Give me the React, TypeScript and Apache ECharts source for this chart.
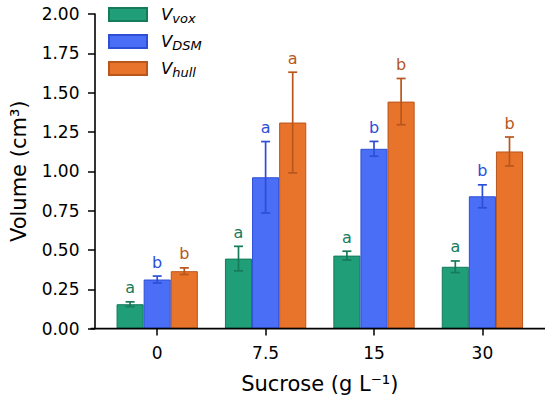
import React, { useEffect, useRef } from "react";
import * as echarts from "echarts";

const categories = ["0", "7.5", "15", "30"];
const seriesNames = ["vox", "DSM", "hull"];
const voxMean = [0.155, 0.445, 0.464, 0.393];
const voxErr = [0.015, 0.078, 0.028, 0.037];
const dsmMean = [0.312, 0.962, 1.143, 0.841];
const dsmErr = [0.022, 0.227, 0.047, 0.073];
const hullMean = [0.365, 1.31, 1.443, 1.126];
const hullErr = [0.021, 0.32, 0.147, 0.092];
const voxLetters = ["a", "a", "a", "a"];
const dsmLetters = ["b", "a", "b", "b"];
const hullLetters = ["b", "a", "b", "b"];
const yTicks = [0, 0.25, 0.5, 0.75, 1.0, 1.25, 1.5, 1.75, 2.0];

const fills = ["#1f9e77", "#4a6ef5", "#e8732b"];
const edges = ["#177a5b", "#2c4fd6", "#b8561c"];

export default function App() {
  const ref = useRef<HTMLDivElement>(null);
  useEffect(() => {
    document.body.style.margin = "0";
    if (!ref.current) return;
    const chart = echarts.init(ref.current, null, { renderer: "svg" });
    const means = [voxMean, dsmMean, hullMean];
    const errs = [voxErr, dsmErr, hullErr];
    const letters = [voxLetters, dsmLetters, hullLetters];
    const font = "DejaVu Sans";

    const barSeries = seriesNames.map((n, i) => ({
      name: n,
      type: "bar",
      data: means[i],
      barWidth: "25%",
      barGap: "0%",
      itemStyle: { color: fills[i], borderColor: edges[i], borderWidth: 1 },
      z: 2,
    }));

    const errSeries = seriesNames.map((n, i) => ({
      type: "custom",
      name: n + "_err",
      coordinateSystem: "cartesian2d",
      data: means[i].map((m, k) => [k, m, errs[i][k]]),
      z: 5,
      renderItem: (params: any, api: any) => {
        const k = api.value(0);
        const m = api.value(1);
        const e = api.value(2);
        const idx = params.dataIndex;
        const band = api.size([1, 0])[0];
        const bw = band * 0.25;
        const c = api.coord([k, m]);
        const x = c[0] + (i - 1) * bw;
        const yTop = api.coord([k, m + e])[1];
        const yBot = api.coord([k, m - e])[1];
        const cap = 4.5;
        const st = { stroke: edges[i], lineWidth: 1.7 };
        return {
          type: "group",
          children: [
            { type: "line", shape: { x1: x, y1: yTop, x2: x, y2: yBot }, style: st },
            { type: "line", shape: { x1: x - cap, y1: yTop, x2: x + cap, y2: yTop }, style: st },
            { type: "line", shape: { x1: x - cap, y1: yBot, x2: x + cap, y2: yBot }, style: st },
            {
              type: "text",
              x: x,
              y: yTop - 6,
              style: {
                text: letters[i][idx],
                fill: edges[i],
                font: `16px "${font}"`,
                align: "center",
                verticalAlign: "bottom",
              },
            },
          ],
        };
      },
    }));

    chart.setOption({
      animation: false,
      textStyle: { fontFamily: font },
      grid: { left: 99.4, width: 437.2, top: 14, bottom: 72.4 },
      legend: {
        data: seriesNames,
        orient: "vertical",
        left: 108,
        top: 4,
        padding: 0,
        itemWidth: 38,
        itemHeight: 13,
        itemGap: 6,
        icon: "rect",
        formatter: (n: string) => `{v|V}{s|${n}}`,
        textStyle: {
          rich: {
            v: {
              fontSize: 16.5,
              fontStyle: "italic",
              color: "#000",
              lineHeight: 17,
              padding: [0, 0, 0, 9],
              fontFamily: font,
            },
            s: {
              fontSize: 13,
              fontStyle: "italic",
              color: "#000",
              lineHeight: 13,
              padding: [8, 0, 0, 0],
              fontFamily: font,
            },
          },
        },
      },
      xAxis: {
        type: "category",
        data: categories,
        name: "Sucrose (g L\u207B\u00B9)",
        nameLocation: "middle",
        nameGap: 45,
        nameTextStyle: { fontSize: 21, color: "#000", fontFamily: font },
        axisLine: { show: false },
        axisTick: { show: true, alignWithLabel: true, length: 7, lineStyle: { color: "#000", width: 1.5 } },
        axisLabel: { fontSize: 17, color: "#000", margin: 16, fontFamily: font },
        splitLine: { show: false },
      },
      yAxis: {
        type: "value",
        min: 0,
        max: 2,
        interval: 0.25,
        offset: 8,
        name: "Volume (cm\u00B3)",
        nameLocation: "middle",
        nameGap: 66,
        nameTextStyle: { fontSize: 21, color: "#000", fontFamily: font },
        axisLine: { show: true, lineStyle: { color: "#000", width: 1.6 } },
        axisTick: { show: true, length: 7, lineStyle: { color: "#000", width: 1.5 } },
        axisLabel: {
          fontSize: 17,
          color: "#000",
          margin: 15.5,
          fontFamily: font,
          formatter: (v: number) => (yTicks.includes(v) ? v.toFixed(2) : ""),
        },
        splitLine: { show: false },
      },
      graphic: [
        {
          type: "line",
          shape: { x1: 90.6, y1: 328.6, x2: 545, y2: 328.6 },
          style: { stroke: "#000", lineWidth: 1.6 },
          z: 10,
        },
      ],
      series: [...barSeries, ...errSeries],
    });
    return () => chart.dispose();
  }, []);
  return <div ref={ref} style={{ width: 550, height: 401 }} />;
}
